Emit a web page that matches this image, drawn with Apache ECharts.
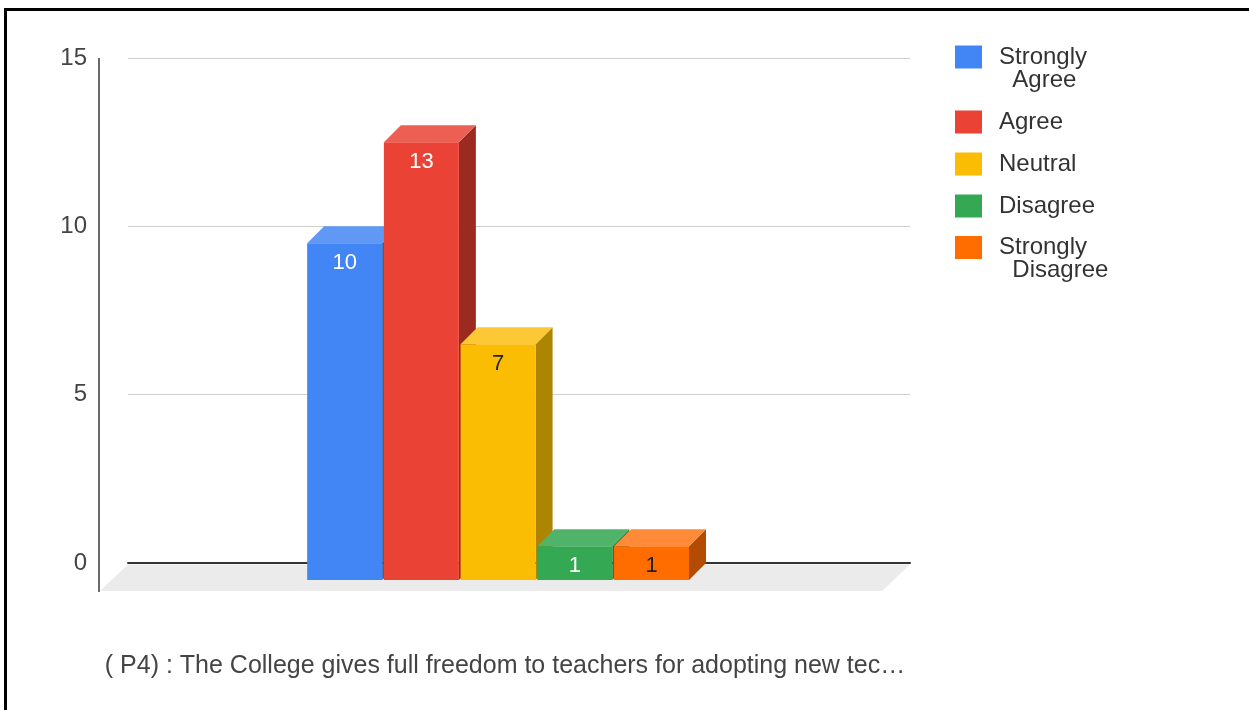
<!DOCTYPE html>
<html><head><meta charset="utf-8">
<script src="https://cdn.jsdelivr.net/npm/echarts@6/dist/echarts.min.js"></script>
<style>html,body{margin:0;padding:0;background:#fff}#c{width:1249px;height:710px}</style>
</head><body><div id="c"></div>
<script>
// ---- data ----
const categories = ['( P4) : The College gives full freedom to teachers for adopting new tec…'];
const seriesNames = ['Strongly Agree', 'Agree', 'Neutral', 'Disagree', 'Strongly Disagree'];
const seriesValues = [10, 13, 7, 1, 1];
const yMin = 0, yMax = 15, yInterval = 5;

// ---- styles ----
const frontColors = ['#4285f4', '#ea4335', '#fbbc04', '#34a853', '#ff6d01'];
const topColors   = ['#6198f6', '#ee5f53', '#fcc836', '#4fb46a', '#ff8a38'];
const sideColors  = ['#2f5fae', '#9c2a20', '#ae8403', '#23783a', '#b34c01'];
const labelColors = ['#ffffff', '#ffffff', '#222222', '#ffffff', '#222222'];
const FONT = 'Liberation Sans, Arial, sans-serif';

const chart = echarts.init(document.getElementById('c'), null, {renderer: 'canvas'});

function makeBar(i) {
  return {
    type: 'custom',
    name: seriesNames[i],
    z: 3,
    itemStyle: {color: frontColors[i]},
    encode: {x: 0, y: 1},
    data: [[0, seriesValues[i]]],
    renderItem: function (params, api) {
      const catW = api.size([1, 0])[0];
      const base = api.coord([api.value(0), 0]);
      const topP = api.coord([api.value(0), api.value(1)]);
      const bw = catW * 0.0959, pitch = catW * 0.0981, d = 17;
      const x0 = base[0] - (4 * pitch + bw) / 2 - catW * 0.005 + i * pitch;
      const x1 = x0 + bw;
      const yT = topP[1], yB = base[1];
      return {
        type: 'group',
        children: [
          {type: 'polygon', shape: {points: [[x1 - d, yT + d], [x1, yT], [x1, yB], [x1 - d, yB + d]]},
           style: {fill: sideColors[i]}},
          {type: 'polygon', shape: {points: [[x0 - d, yT + d], [x1 - d, yT + d], [x1, yT], [x0, yT]]},
           style: {fill: topColors[i]}},
          {type: 'rect', shape: {x: x0 - d, y: yT + d, width: bw, height: yB - yT},
           style: {fill: frontColors[i]}},
          {type: 'text', x: x0 - d + bw / 2, y: yT + d + 20,
           style: {text: String(api.value(1)), fill: labelColors[i], fontSize: 22, fontFamily: FONT,
                   align: 'center', verticalAlign: 'middle'}}
        ]
      };
    }
  };
}

const floorSeries = {
  type: 'custom',
  name: '__floor',
  silent: true,
  z: 1,
  encode: {x: 0, y: 1},
  data: [[0, 0]],
  renderItem: function (params, api) {
    const cs = params.coordSys;
    const y0 = cs.y + cs.height;
    return {
      type: 'group',
      children: [
        {type: 'polygon', shape: {points: [[cs.x, y0 + 1.5], [cs.x + cs.width, y0 + 1.5],
                                            [cs.x + cs.width - 28, y0 + 28], [cs.x - 28, y0 + 28]]},
         style: {fill: '#ebebeb'}},
        {type: 'line', shape: {x1: cs.x - 29, y1: cs.y, x2: cs.x - 29, y2: y0 + 29},
         style: {stroke: '#6a6a6a', lineWidth: 2}}
      ]
    };
  }
};

const legendText = {fontSize: 24, fontFamily: FONT, color: '#333', lineHeight: 23, padding: [0, 0, 0, 12],
  rich: {a: {fontSize: 24, fontFamily: FONT, color: '#333', lineHeight: 23}}};
function legendItem(i) {
  return {name: seriesNames[i], icon: 'rect', itemStyle: {color: frontColors[i]}};
}
const legendFormatter = function (n) {
  if (n.indexOf('Strongly ') === 0) {
    return '{a| }\n{a|Strongly}\n{a|  ' + n.slice(9) + '}';
  }
  return '{a|' + n + '}';
};

const option = {
  backgroundColor: '#ffffff',
  animation: false,
  grid: {left: 128, right: 339, top: 58, bottom: 147},
  xAxis: {
    type: 'category',
    data: categories,
    axisTick: {show: false},
    axisLine: {show: true, lineStyle: {color: '#333', width: 2}},
    axisLabel: {margin: 91, fontSize: 25, color: '#444', fontFamily: FONT, padding: [0, 28, 0, 0]},
    splitLine: {show: false}
  },
  yAxis: {
    type: 'value',
    min: yMin, max: yMax, interval: yInterval,
    axisLine: {show: false},
    axisTick: {show: false},
    axisLabel: {margin: 41, fontSize: 24, color: '#444', fontFamily: FONT},
    splitLine: {lineStyle: {color: '#cfcfcf', width: 1}}
  },
  legend: [
    {orient: 'vertical', left: 955, top: 22, padding: 0, itemWidth: 27, itemHeight: 23, itemGap: 18,
     textStyle: legendText, formatter: legendFormatter,
     data: [legendItem(0), legendItem(1), legendItem(2), legendItem(3)]},
    {orient: 'vertical', left: 955, top: 212.5, padding: 0, itemWidth: 27, itemHeight: 23, itemGap: 18,
     textStyle: legendText, formatter: legendFormatter,
     data: [legendItem(4)]}
  ],
  graphic: [
    {type: 'line', shape: {x1: 4, y1: 9.5, x2: 1249, y2: 9.5}, style: {stroke: '#000', lineWidth: 3}, z: 100},
    {type: 'line', shape: {x1: 5.5, y1: 8, x2: 5.5, y2: 710}, style: {stroke: '#000', lineWidth: 3}, z: 100}
  ],
  series: [floorSeries].concat(seriesNames.map(function (n, i) { return makeBar(i); }))
};
chart.setOption(option);
</script>
</body></html>
